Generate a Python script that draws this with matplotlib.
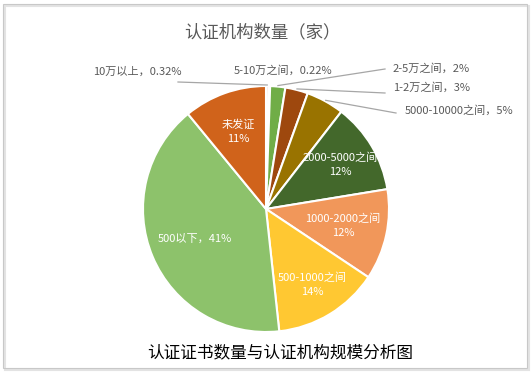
import numpy as np
import matplotlib
matplotlib.use('Agg')
import matplotlib.pyplot as plt
from matplotlib.patches import Rectangle

plt.rcParams['font.family'] = ['Noto Sans CJK SC', 'DejaVu Sans']

# 数据
labels = ['10万以上', '5-10万之间', '2-5万之间', '1-2万之间', '5000-10000之间',
          '2000-5000之间', '1000-2000之间', '500-1000之间', '500以下', '未发证']
pct_text = ['0.32%', '0.22%', '2%', '3%', '5%', '12%', '12%', '14%', '41%', '11%']
values = [0.32, 0.22, 2, 3, 5, 12, 12, 14, 41, 11]
colors = ['#ED7D31', '#FFC000', '#70AD47', '#9E480E', '#997300',
          '#43682B', '#F1975A', '#FFC832', '#8DC26B', '#D0631B']

W, H = 531, 374
fig = plt.figure(figsize=(W / 100, H / 100), dpi=100)
ax = fig.add_axes([0, 0, 1, 1])


def Y(y):
    return H - y


cx, cy, R = 266, Y(209), 123
wedges, _ = ax.pie(values, colors=colors, startangle=90, counterclock=False,
                   center=(cx, cy), radius=R,
                   wedgeprops=dict(edgecolor='white', linewidth=1.5))
ax.set_xlim(0, W)
ax.set_ylim(0, H)
ax.set_aspect('equal')
ax.axis('off')


def mid_point(w, r):
    a = np.deg2rad((w.theta1 + w.theta2) / 2)
    return cx + r * np.cos(a), cy + r * np.sin(a)


# 扇区内标签
inside = {5: 0.70, 6: 0.64, 7: 0.72, 8: 0.63, 9: 0.67}
for i, r in inside.items():
    x, y = mid_point(wedges[i], r * R)
    if i == 8:
        txt = labels[i] + '，' + pct_text[i]
    else:
        txt = labels[i] + '\n' + pct_text[i]
    ax.text(x, y, txt, ha='center', va='center', fontsize=8, color='white',
            linespacing=1.5)

# 扇区外标签（带引导线）
outside = {
    0: ((137, 72), 'center', (178, 82)),
    1: ((283, 70), 'center', None),
    2: ((393, 68), 'left', (385, 69)),
    3: ((393, 87), 'left', (385, 93)),
    4: ((405, 110), 'left', (396, 113)),
}
for i, (pos, ha, end) in outside.items():
    ax.text(pos[0], Y(pos[1]), labels[i] + '，' + pct_text[i], ha=ha,
            va='center', fontsize=8, color='#595959')
    if end is not None:
        sx, sy = mid_point(wedges[i], R + 1)
        ax.plot([sx, end[0]], [sy, Y(end[1])], color='#A6A6A6', lw=0.9)

# 标题与说明
ax.text(262, Y(32), '认证机构数量（家）', ha='center', va='center',
        fontsize=12.5, color='#595959')
ax.text(280, Y(353), '认证证书数量与认证机构规模分析图', ha='center',
        va='center', fontsize=12, color='black')

# 外框
ax.add_patch(Rectangle((5, Y(370)), 524, 364, fill=False,
                       edgecolor='#E3E3E3', lw=1.5))
ax.add_patch(Rectangle((3, Y(368)), 524, 364, fill=False,
                       edgecolor='#C8C8C8', lw=0.8))

fig.savefig('out.png', dpi=100)
